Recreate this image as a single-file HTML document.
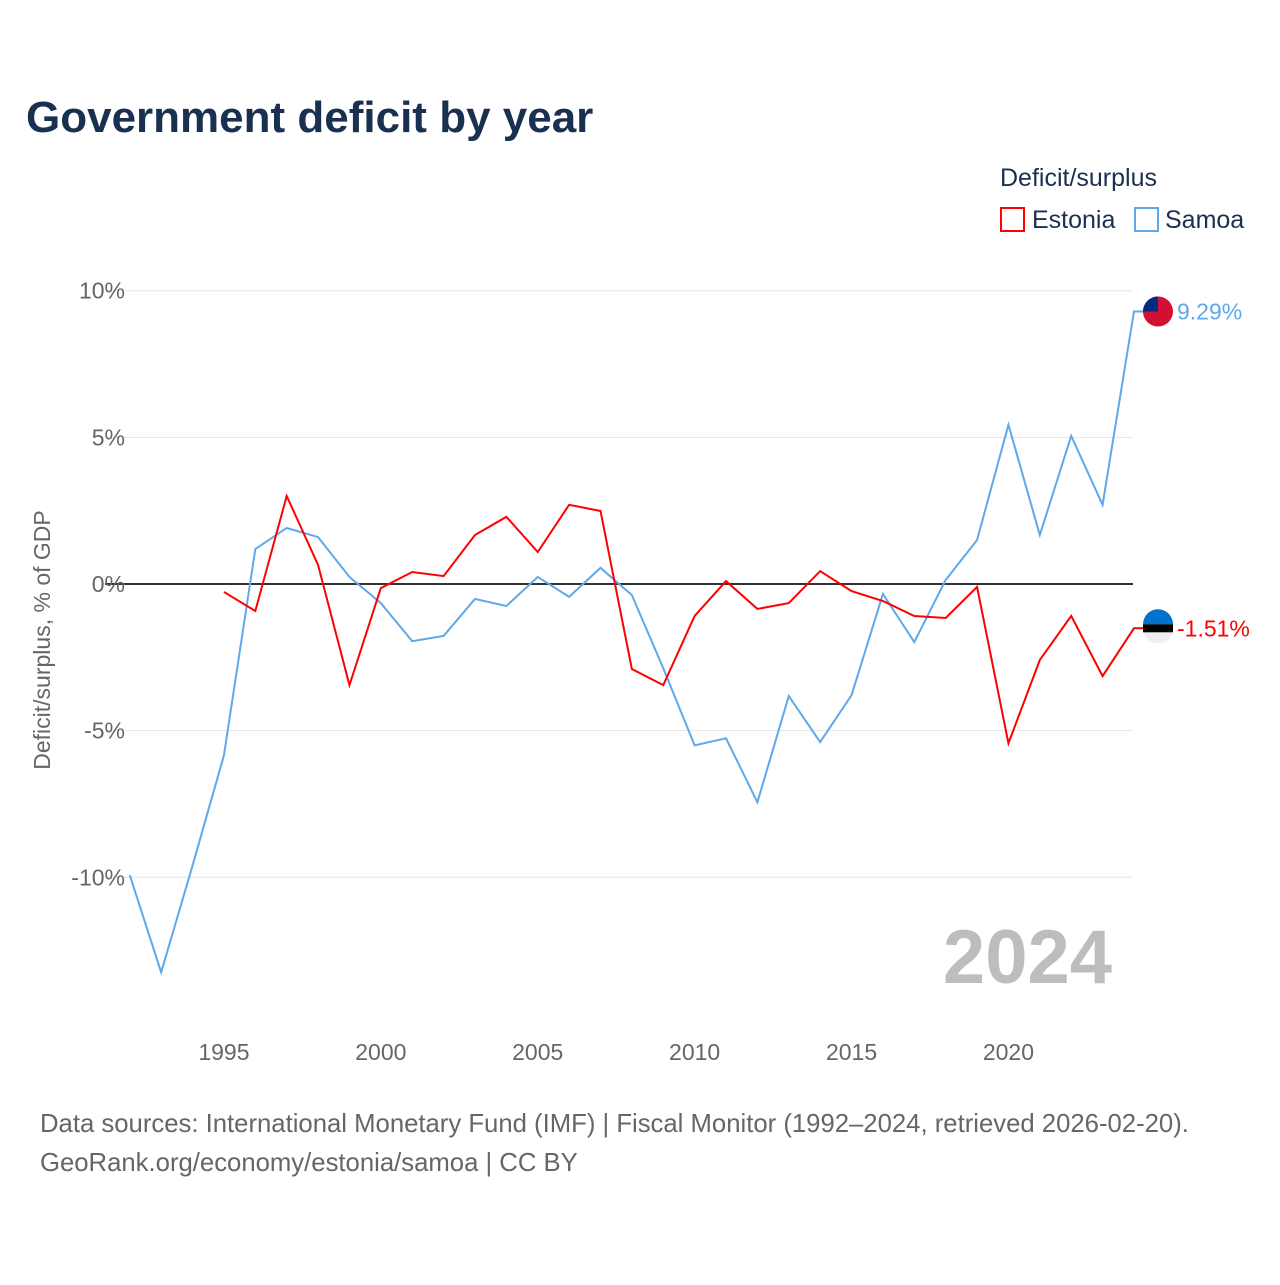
<!DOCTYPE html>
<html><head><meta charset="utf-8"><style>
body{margin:0;background:#fff;font-family:"Liberation Sans",sans-serif;}
#wrap{position:relative;width:1280px;height:1280px;}
</style></head><body>
<div id="wrap">
<svg id="svg" width="1280" height="1280">
<text x="26" y="132" font-size="44" font-weight="bold" fill="#1a3050">Government deficit by year</text>
<text x="1000" y="186" font-size="25" fill="#1a3050">Deficit/surplus</text>
<g><rect x="1001" y="208" width="23" height="23" fill="none" stroke="#f00" stroke-width="2"/><text x="1032" y="228" font-size="25" fill="#1a3050">Estonia</text></g>
<g><rect x="1135" y="208" width="23" height="23" fill="none" stroke="#5ea8ec" stroke-width="2"/><text x="1165" y="228" font-size="25" fill="#1a3050">Samoa</text></g>
<g id="grid"></g><g id="xt"></g><g id="lines"></g>
<text transform="translate(50,640) rotate(-90)" text-anchor="middle" font-size="23" fill="#666">Deficit/surplus, % of GDP</text>
<text x="1112" y="983" text-anchor="end" font-size="76" font-weight="bold" fill="#bdbdbd">2024</text>
<text x="40" y="1132" font-size="25.7" fill="#666">Data sources: International Monetary Fund (IMF) | Fiscal Monitor (1992–2024, retrieved 2026-02-20).</text>
<text x="40" y="1171" font-size="25.7" fill="#666">GeoRank.org/economy/estonia/samoa | CC BY</text>
</svg></div>
<script>
const years=[1992,1993,1994,1995,1996,1997,1998,1999,2000,2001,2002,2003,2004,2005,2006,2007,2008,2009,2010,2011,2012,2013,2014,2015,2016,2017,2018,2019,2020,2021,2022,2023,2024];
const samoa=[-9.93,-13.24,-9.6,-5.84,1.19,1.91,1.6,0.24,-0.65,-1.95,-1.77,-0.51,-0.75,0.24,-0.44,0.55,-0.38,-2.87,-5.5,-5.26,-7.44,-3.82,-5.39,-3.79,-0.34,-1.98,0.14,1.5,5.43,1.67,5.05,2.7,9.29];
const estonia=[null,null,null,-0.27,-0.92,3.0,0.65,-3.45,-0.14,0.41,0.27,1.67,2.29,1.09,2.7,2.49,-2.9,-3.45,-1.09,0.1,-0.85,-0.65,0.44,-0.24,-0.58,-1.09,-1.16,-0.1,-5.43,-2.59,-1.09,-3.14,-1.51];
const yTicks=[10,5,0,-5,-10];
const xTicks=[1995,2000,2005,2010,2015,2020];
const NS="http://www.w3.org/2000/svg";
const X=y=>129.8+(y-1992)*31.38, Y=v=>584-v*29.33;
function mk(t,a,p){const e=document.createElementNS(NS,t);for(const k in a)e.setAttribute(k,a[k]);p.appendChild(e);return e;}
const grid=document.getElementById('grid'),xt=document.getElementById('xt'),lines=document.getElementById('lines');
yTicks.forEach(v=>{
 const l=mk('line',{x1:105,x2:1133,y1:Y(v),y2:Y(v),stroke:v===0?'#333':'#e6e6e6','stroke-width':v===0?2:1},grid);
 
 
 const t=mk('text',{x:125,y:Y(v)+8,'text-anchor':'end','font-size':23,fill:'#666'},grid);
 t.textContent=v+'%';
 
 
});
xTicks.forEach(y=>{
 const t=mk('text',{x:X(y),y:1060,'text-anchor':'middle','font-size':23,fill:'#666'},xt);
 t.textContent=y;
 
 
});
function series(vals,color,name,flag){
 let d='';vals.forEach((v,i)=>{if(v===null)return;d+=(d?'L':'M')+X(years[i])+','+Y(v);});
 const last=vals[vals.length-1];
 d+='L1158,'+Y(last);
 const p=mk('path',{d:d,fill:'none',stroke:color,'stroke-width':2},lines);
 
 
 const g=mk('g',{},lines);
 
 
 const cy=Y(last);
 if(flag==='ws'){mk('circle',{cx:1158,cy:cy,r:15,fill:'#d21034'},g);mk('path',{d:`M1143,${cy} A15,15 0 0 1 1158,${cy-15} L1158,${cy} Z`,fill:'#002b7f'},g);}
 else{mk('circle',{cx:1158,cy:cy,r:15,fill:'#eee'},g);mk('path',{d:`M1143,${cy-4} A15,15 0 0 1 1173,${cy-4} Z`,fill:'#0072ce'},g);mk('rect',{x:1143,y:cy-4,width:30,height:8,fill:'#000'},g);}
 const t=mk('text',{x:1177,y:cy+8,'font-size':23,fill:color},lines);
 t.textContent=last.toFixed(2)+'%';
 
 
}
series(samoa,'#5ea8ec','samoa','ws');
series(estonia,'#f00','estonia','ee');
</script></body></html>
